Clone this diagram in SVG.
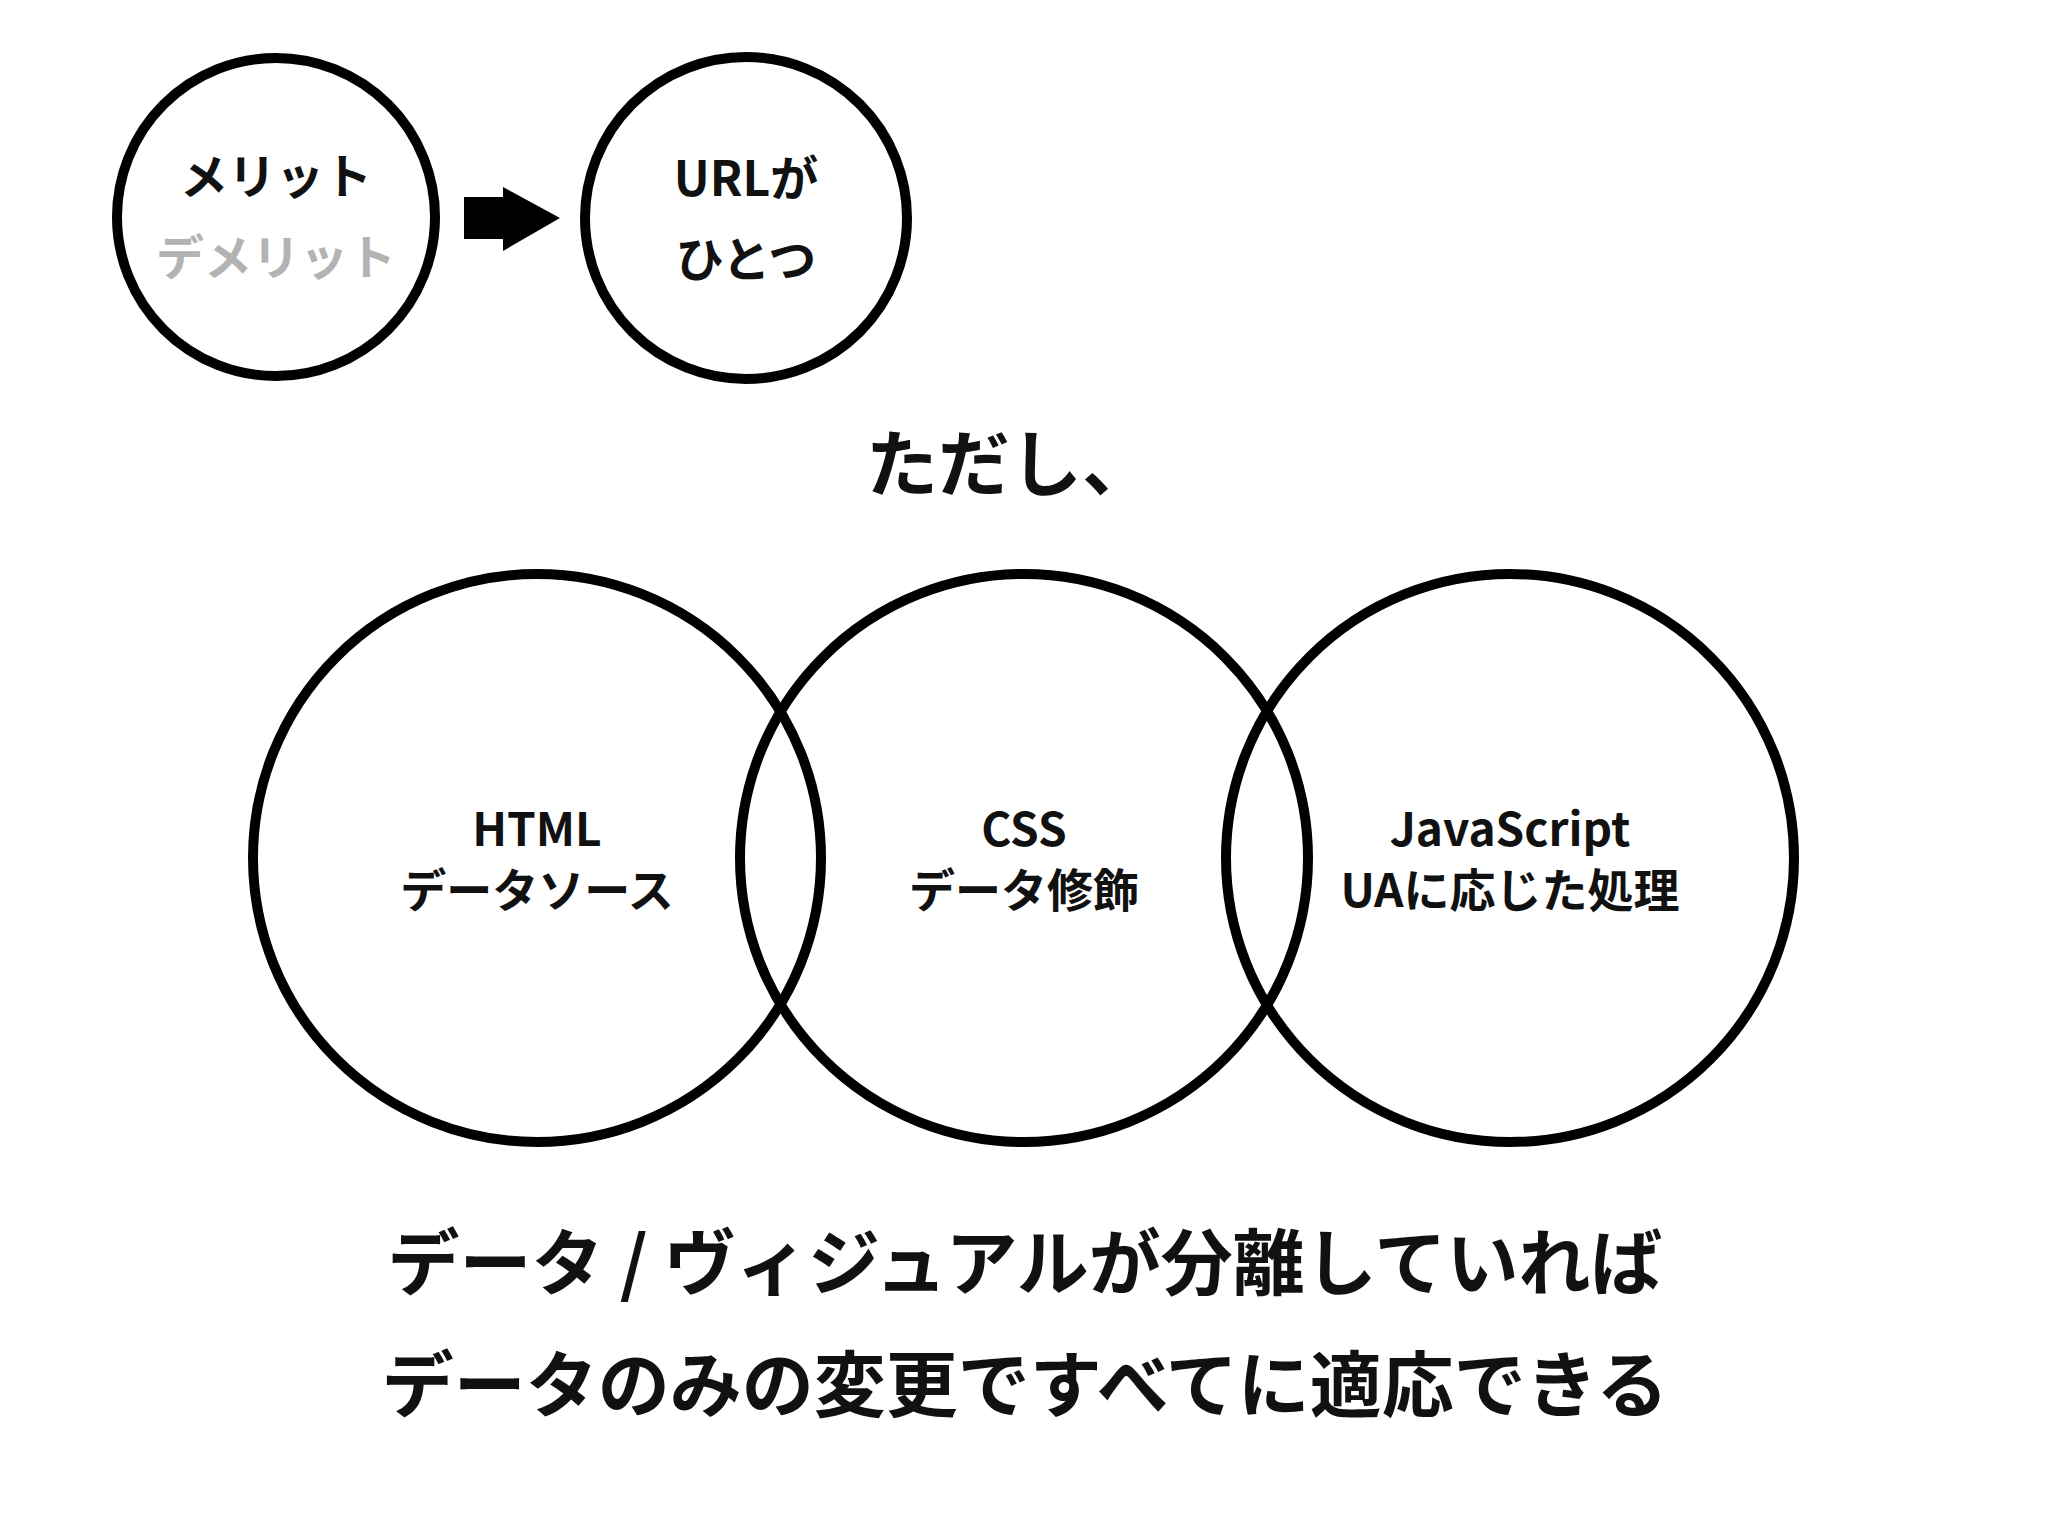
<svg xmlns="http://www.w3.org/2000/svg" width="2048" height="1536" viewBox="0 0 2048 1536">
<style>
.c{fill:none;stroke:#000;stroke-width:10}
text{font-family:"Noto Sans CJK JP","Noto Sans",sans-serif;font-weight:bold;text-anchor:middle;fill:#111}
.s{font-size:48px}
.m{font-size:46px}
.l{font-size:72px}
</style>
<rect width="2048" height="1536" fill="#fff"/>
<g id="merit"><circle class="c" cx="276" cy="217" r="159"/><text class="s" x="276" y="194">メリット</text><text class="s" x="276" y="275" style="fill:#b3b3b3">デメリット</text></g>
<g id="connectors"><rect x="464" y="197" width="40" height="42" fill="#000"/><polygon points="503,187 560,218 503,251" fill="#000"/></g>
<g id="url"><circle class="c" cx="746" cy="218" r="161"/><text class="s" x="746" y="196">URLが</text><text class="s" x="746" y="277">ひとつ</text></g>
<text class="l" x="1010" y="490">ただし、</text>
<g id="html"><circle class="c" cx="537" cy="858" r="284"/><text class="m" x="537" y="846">HTML</text><text class="m" x="537" y="907">データソース</text></g>
<g id="css"><circle class="c" cx="1024" cy="858" r="284"/><text class="m" x="1024" y="846">CSS</text><text class="m" x="1024" y="907">データ修飾</text></g>
<g id="js"><circle class="c" cx="1510" cy="858" r="284"/><text class="m" x="1510" y="846">JavaScript</text><text class="m" x="1510" y="907">UAに応じた処理</text></g>
<text class="l" x="1025" y="1289">データ / ヴィジュアルが分離していれば</text>
<text class="l" x="1025" y="1411">データのみの変更ですべてに適応できる</text>
</svg>
